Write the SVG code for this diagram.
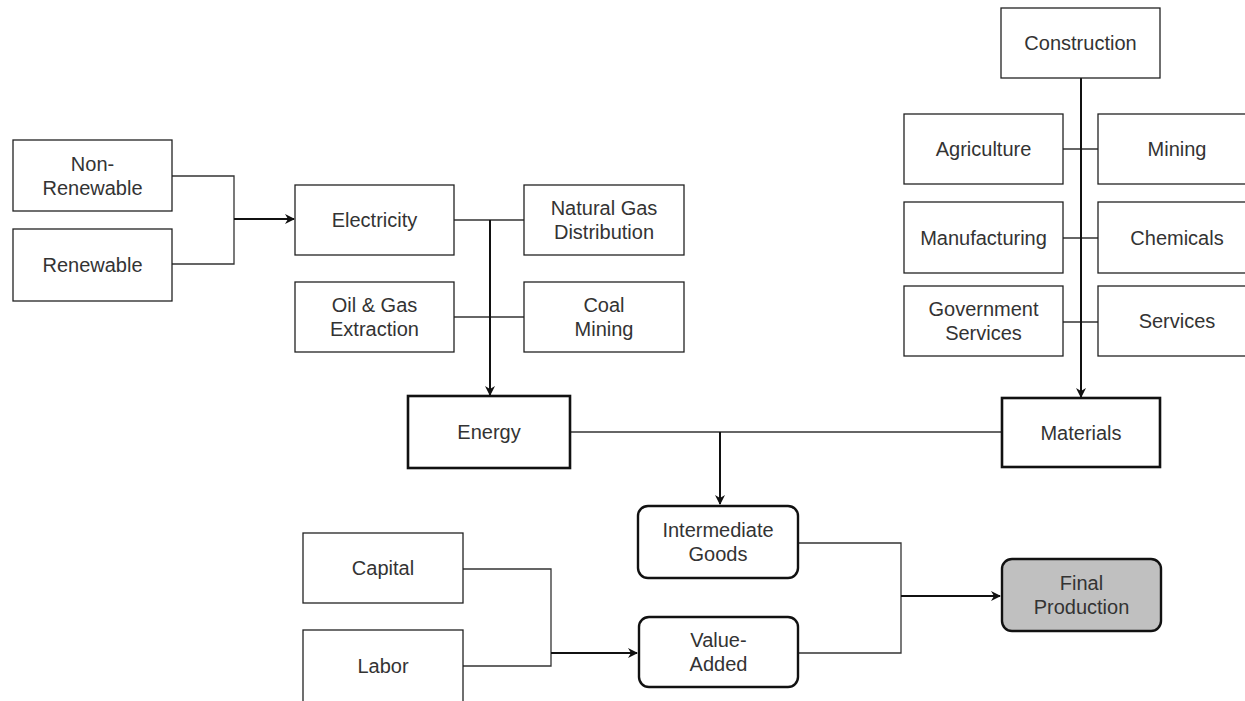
<svg xmlns="http://www.w3.org/2000/svg" width="1245" height="701" viewBox="0 0 1245 701">
<style>
.n{fill:#fff;stroke:#222;stroke-width:1.3}
.b{fill:#fff;stroke:#111;stroke-width:2.6}
.r{fill:#fff;stroke:#111;stroke-width:2.4}
.f{fill:#c0c0c0;stroke:#111;stroke-width:2.4}
text{font-family:"Liberation Sans",Arial,sans-serif;font-size:20px;fill:#333;text-anchor:middle}
.c{fill:none;stroke:#333;stroke-width:1.3}
.a{fill:none;stroke:#111;stroke-width:2;marker-end:url(#ah)}
</style>
<defs>
<marker id="ah" markerWidth="10" markerHeight="10" refX="9" refY="5" orient="auto" markerUnits="userSpaceOnUse">
<path d="M0,0 L10,5 L0,10 L3,5 Z" fill="#111"/>
</marker>
</defs>
<rect width="1245" height="701" fill="#fff"/>
<g id="connectors">
<polyline class="c" points="172,176 234,176 234,264 172,264"/>
<line class="a" x1="234" y1="219" x2="294" y2="219"/>
<line class="c" x1="454" y1="220" x2="524" y2="220"/>
<line class="c" x1="454" y1="317" x2="524" y2="317"/>
<line class="a" x1="490" y1="220" x2="490" y2="395"/>
<line class="c" x1="1063" y1="149" x2="1098" y2="149"/>
<line class="c" x1="1063" y1="238" x2="1098" y2="238"/>
<line class="c" x1="1063" y1="322" x2="1098" y2="322"/>
<line class="a" x1="1081" y1="78" x2="1081" y2="397"/>
<line class="c" x1="570" y1="432" x2="1002" y2="432"/>
<line class="a" x1="720" y1="432" x2="720" y2="504"/>
<polyline class="c" points="463,569 551,569 551,666 463,666"/>
<line class="a" x1="551" y1="653" x2="637" y2="653"/>
<polyline class="c" points="798,543 901,543 901,653 798,653"/>
<line class="a" x1="901" y1="596" x2="1000" y2="596"/>
</g>
<g id="non-renewable"><rect class="n" x="13" y="140" width="159" height="71"/><text x="92.5" y="171">Non-</text><text x="92.5" y="195">Renewable</text></g>
<g id="renewable"><rect class="n" x="13" y="229" width="159" height="72"/><text x="92.5" y="272">Renewable</text></g>
<g id="electricity"><rect class="n" x="295" y="185" width="159" height="70"/><text x="374.5" y="227">Electricity</text></g>
<g id="natural-gas"><rect class="n" x="524" y="185" width="160" height="70"/><text x="604" y="215">Natural Gas</text><text x="604" y="239">Distribution</text></g>
<g id="oil-gas"><rect class="n" x="295" y="282" width="159" height="70"/><text x="374.5" y="312">Oil &amp; Gas</text><text x="374.5" y="336">Extraction</text></g>
<g id="coal-mining"><rect class="n" x="524" y="282" width="160" height="70"/><text x="604" y="312">Coal</text><text x="604" y="336">Mining</text></g>
<g id="construction"><rect class="n" x="1001" y="8" width="159" height="70"/><text x="1080.5" y="50">Construction</text></g>
<g id="agriculture"><rect class="n" x="904" y="114" width="159" height="70"/><text x="983.5" y="156">Agriculture</text></g>
<g id="mining"><rect class="n" x="1098" y="114" width="160" height="70"/><text x="1177" y="156">Mining</text></g>
<g id="manufacturing"><rect class="n" x="904" y="202" width="159" height="71"/><text x="983.5" y="245">Manufacturing</text></g>
<g id="chemicals"><rect class="n" x="1098" y="202" width="160" height="71"/><text x="1177" y="245">Chemicals</text></g>
<g id="government-services"><rect class="n" x="904" y="286" width="159" height="70"/><text x="983.5" y="316">Government</text><text x="983.5" y="340">Services</text></g>
<g id="services"><rect class="n" x="1098" y="286" width="160" height="70"/><text x="1177" y="328">Services</text></g>
<g id="energy"><rect class="b" x="408" y="396" width="162" height="72"/><text x="489" y="439">Energy</text></g>
<g id="materials"><rect class="b" x="1002" y="398" width="158" height="69"/><text x="1081" y="440">Materials</text></g>
<g id="intermediate-goods"><rect class="r" x="638" y="506" width="160" height="72" rx="10"/><text x="718" y="537">Intermediate</text><text x="718" y="561">Goods</text></g>
<g id="capital"><rect class="n" x="303" y="533" width="160" height="70"/><text x="383" y="575">Capital</text></g>
<g id="labor"><rect class="n" x="303" y="630" width="160" height="80"/><text x="383" y="673">Labor</text></g>
<g id="value-added"><rect class="r" x="639" y="617" width="159" height="70" rx="10"/><text x="718.5" y="647">Value-</text><text x="718.5" y="671">Added</text></g>
<g id="final-production"><rect class="f" x="1002" y="559" width="159" height="72" rx="10"/><text x="1081.5" y="590">Final</text><text x="1081.5" y="614">Production</text></g>
</svg>
